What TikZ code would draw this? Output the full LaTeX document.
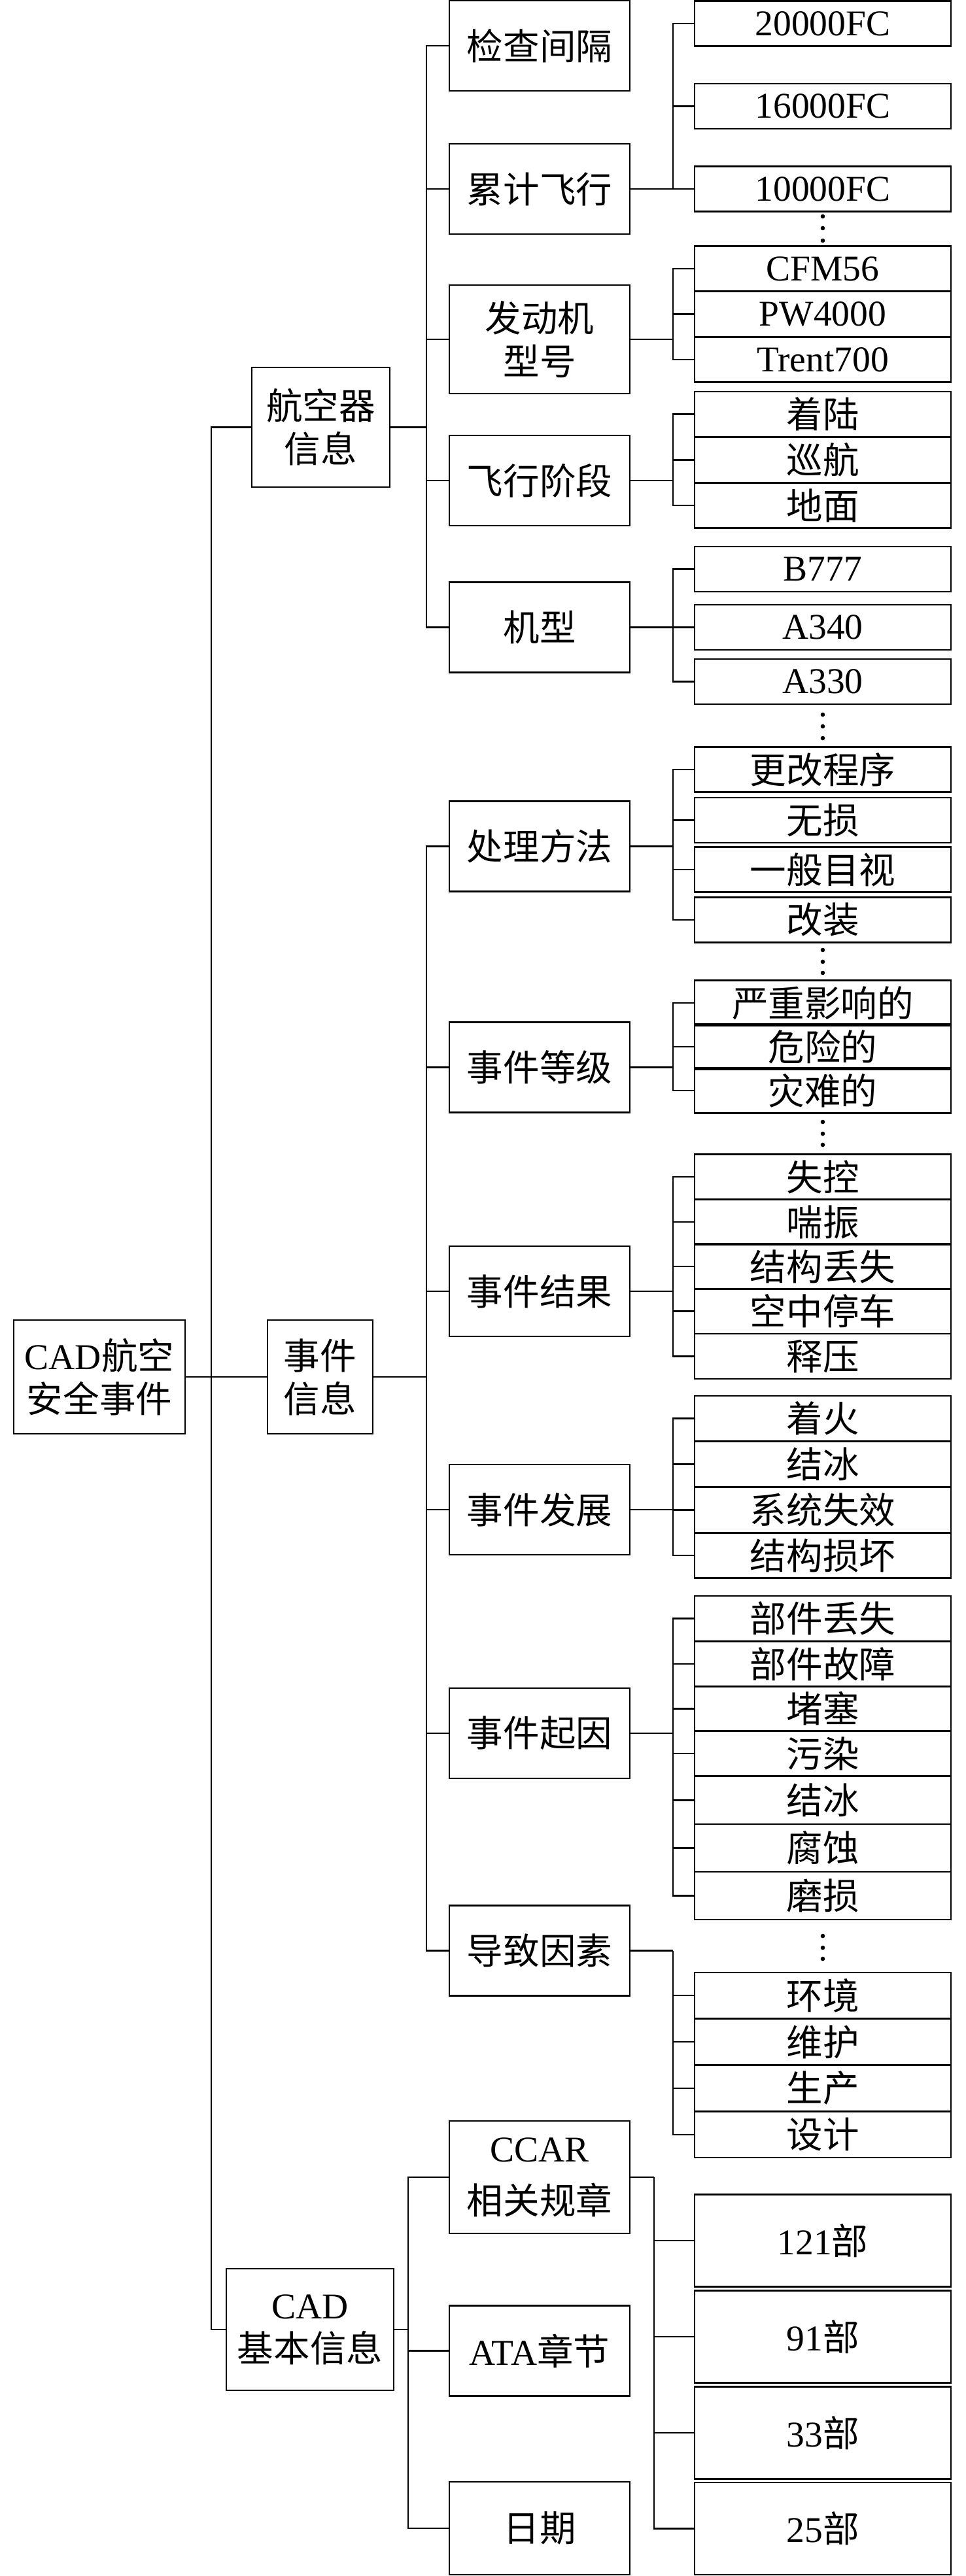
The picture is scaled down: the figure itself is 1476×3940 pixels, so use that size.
\documentclass[tikz,border=0pt]{standalone}
\usepackage{fontspec}
\setmainfont{Liberation Serif}
\newfontfamily\zh{Noto Sans CJK SC}
\newcommand\lat[1]{{\rmfamily #1}}
\usetikzlibrary{%
  arrows,%
  calc%
}
\tikzset{>=latex}
\tikzset{wire/.style = {line width=0.75pt},
	box/.style = {draw, line width=0.75pt, inner sep=0pt, align=center,
	    font=\zh\fontsize{15.8}{18.8}\selectfont},
	branch/.style = {box, minimum width=27.6mm, minimum height=13.8mm},
	leaf/.style = {box, minimum width=39.2mm, minimum height=6.9mm},
	bigleaf/.style = {box, minimum width=39.2mm, minimum height=14.1mm}}

\begin{document}
\begin{tikzpicture}[x=0.1mm, y=-0.1mm]
    \useasboundingbox (0,0) rectangle (1476,3940);
    \node[box, minimum width=26.2mm, minimum height=17.4mm] (root) at (152,2106) {\lat{CAD}航空\\安全事件};
    \node[box, minimum width=21.1mm, minimum height=18.3mm] (hk) at (490.5,653.5) {航空器\\信息};
    \node[box, minimum width=16.1mm, minimum height=17.4mm] (sj) at (489.5,2106) {事件\\信息};
    \node[box, minimum width=25.6mm, minimum height=18.6mm] (jb) at (474,3563) {\lat{CAD}\\基本信息};

    \node[branch] (jc) at (825,70) {检查间隔};
    \node[branch] (lj) at (825,289) {累计飞行};
    \node[branch, minimum height=16.6mm] (fd) at (825,519) {发动机\\型号};
    \node[branch] (fj) at (825,735) {飞行阶段};
    \node[branch] (jx) at (825,959.5) {机型};
    \node[branch] (cl) at (825,1294.5) {处理方法};
    \node[branch] (dj) at (825,1632.5) {事件等级};
    \node[branch] (jg) at (825,1975) {事件结果};
    \node[branch] (fz) at (825,2309) {事件发展};
    \node[branch] (qy) at (825,2651) {事件起因};
    \node[branch] (dz) at (825,2983.5) {导致因素};
    \node[branch, minimum height=17.2mm] (gz) at (825,3330) {\lat{CCAR}\\[4pt]相关规章};
    \node[branch] (ata) at (825,3595.5) {\lat{ATA}章节};
    \node[branch, minimum height=14.2mm] (rq) at (825,3867) {日期};

    \node[leaf] (a1) at (1258,36) {\lat{20000FC}};
    \node[leaf] (a2) at (1258,162.5) {\lat{16000FC}};
    \node[leaf] (a3) at (1258,289) {\lat{10000FC}};
    \node[leaf] (b1) at (1258,411) {\lat{CFM56}};
    \node[leaf] (b2) at (1258,480.5) {\lat{PW4000}};
    \node[leaf] (b3) at (1258,550) {\lat{Trent700}};
    \node[leaf] (c1) at (1258,633.5) {着陆};
    \node[leaf] (c2) at (1258,703.5) {巡航};
    \node[leaf] (c3) at (1258,773) {地面};
    \node[leaf] (d1) at (1258,870.5) {\lat{B777}};
    \node[leaf] (d2) at (1258,959.5) {\lat{A340}};
    \node[leaf] (d3) at (1258,1042.5) {\lat{A330}};
    \node[leaf] (e1) at (1258,1177) {更改程序};
    \node[leaf] (e2) at (1258,1254.5) {无损};
    \node[leaf] (e3) at (1258,1330) {一般目视};
    \node[leaf] (e4) at (1258,1407) {改装};
    \node[leaf] (f1) at (1258,1534) {严重影响的};
    \node[leaf] (f2) at (1258,1601) {危险的};
    \node[leaf] (f3) at (1258,1668) {灾难的};
    \node[leaf] (g1) at (1258,1800) {失控};
    \node[leaf] (g2) at (1258,1869) {喘振};
    \node[leaf] (g3) at (1258,1937) {结构丢失};
    \node[leaf] (g4) at (1258,2005.5) {空中停车};
    \node[leaf] (g5) at (1258,2074.5) {释压};
    \node[leaf] (h1) at (1258,2169.5) {着火};
    \node[leaf] (h2) at (1258,2239.5) {结冰};
    \node[leaf] (h3) at (1258,2309.5) {系统失效};
    \node[leaf] (h4) at (1258,2379) {结构损坏};
    \node[leaf] (i1) at (1258,2475.5) {部件丢失};
    \node[leaf] (i2) at (1258,2545) {部件故障};
    \node[leaf] (i3) at (1258,2613.5) {堵塞};
    \node[leaf] (i4) at (1258,2682) {污染};
    \node[leaf, minimum height=7.3mm] (i5) at (1258,2753.5) {结冰};
    \node[leaf, minimum height=7.3mm] (i6) at (1258,2826.5) {腐蚀};
    \node[leaf, minimum height=7.3mm] (i7) at (1258,2899.5) {磨损};
    \node[leaf, minimum height=7mm] (j1) at (1258,3052) {环境};
    \node[leaf, minimum height=7mm] (j2) at (1258,3123) {维护};
    \node[leaf, minimum height=7mm] (j3) at (1258,3194) {生产};
    \node[leaf, minimum height=7mm] (j4) at (1258,3265) {设计};
    \node[bigleaf] (k1) at (1258,3427) {\lat{121}部};
    \node[bigleaf] (k2) at (1258,3574) {\lat{91}部};
    \node[bigleaf] (k3) at (1258,3721) {\lat{33}部};
    \node[bigleaf] (k4) at (1258,3867.5) {\lat{25}部};

    \fill (1258,331) circle[radius=0.33mm] (1258,349) circle[radius=0.33mm] (1258,368) circle[radius=0.33mm];
    \fill (1258,1093) circle[radius=0.33mm] (1258,1111) circle[radius=0.33mm] (1258,1129) circle[radius=0.33mm];
    \fill (1258,1453) circle[radius=0.33mm] (1258,1471) circle[radius=0.33mm] (1258,1488) circle[radius=0.33mm];
    \fill (1258,1716) circle[radius=0.33mm] (1258,1734) circle[radius=0.33mm] (1258,1751) circle[radius=0.33mm];
    \fill (1258,2961) circle[radius=0.33mm] (1258,2979) circle[radius=0.33mm] (1258,2996) circle[radius=0.33mm];

    \coordinate (l1) at (323,0);
    \coordinate (l2) at (652,0);
    \coordinate (l3) at (1029,0);
    \coordinate (l4) at (624,0);
    \coordinate (l5) at (1000,0);

    \draw[wire] (root.east) -- (sj.west);
    \draw[wire] (hk.west) -- (hk.west -| l1) -- (jb.west -| l1) -- (jb.west);

    \draw[wire] (hk.east) -- (hk.east -| l2) (jc.west) -| (hk.east -| l2) (lj.west) -| (hk.east -| l2)
        (fd.west) -| (hk.east -| l2) (fj.west) -| (hk.east -| l2) (jx.west) -| (hk.east -| l2);
    \draw[wire] (sj.east) -- (sj.east -| l2) (cl.west) -| (sj.east -| l2) (dj.west) -| (sj.east -| l2)
        (jg.west) -| (sj.east -| l2) (fz.west) -| (sj.east -| l2) (qy.west) -| (sj.east -| l2)
        (dz.west) -| (sj.east -| l2);
    \draw[wire] (jb.east) -- (jb.east -| l4) (gz.west) -| (jb.east -| l4) (ata.west) -| (jb.east -| l4)
        (rq.west) -| (jb.east -| l4);

    \draw[wire] (lj.east) -- (lj.east -| l3) (a1.west) -| (lj.east -| l3) (a2.west) -| (lj.east -| l3)
        (a3.west) -| (lj.east -| l3);
    \draw[wire] (fd.east) -- (fd.east -| l3) (b1.west) -| (fd.east -| l3) (b2.west) -| (fd.east -| l3)
        (b3.west) -| (fd.east -| l3);
    \draw[wire] (fj.east) -- (fj.east -| l3) (c1.west) -| (fj.east -| l3) (c2.west) -| (fj.east -| l3)
        (c3.west) -| (fj.east -| l3);
    \draw[wire] (jx.east) -- (jx.east -| l3) (d1.west) -| (jx.east -| l3) (d2.west) -| (jx.east -| l3)
        (d3.west) -| (jx.east -| l3);
    \draw[wire] (cl.east) -- (cl.east -| l3) (e1.west) -| (cl.east -| l3) (e2.west) -| (cl.east -| l3)
        (e3.west) -| (cl.east -| l3) (e4.west) -| (cl.east -| l3);
    \draw[wire] (dj.east) -- (dj.east -| l3) (f1.west) -| (dj.east -| l3) (f2.west) -| (dj.east -| l3)
        (f3.west) -| (dj.east -| l3);
    \draw[wire] (jg.east) -- (jg.east -| l3) (g1.west) -| (jg.east -| l3) (g2.west) -| (jg.east -| l3)
        (g3.west) -| (jg.east -| l3) (g4.west) -| (jg.east -| l3) (g5.west) -| (jg.east -| l3);
    \draw[wire] (fz.east) -- (fz.east -| l3) (h1.west) -| (fz.east -| l3) (h2.west) -| (fz.east -| l3)
        (h3.west) -| (fz.east -| l3) (h4.west) -| (fz.east -| l3);
    \draw[wire] (qy.east) -- (qy.east -| l3) (i1.west) -| (qy.east -| l3) (i2.west) -| (qy.east -| l3)
        (i3.west) -| (qy.east -| l3) (i4.west) -| (qy.east -| l3) (i5.west) -| (qy.east -| l3)
        (i6.west) -| (qy.east -| l3) (i7.west) -| (qy.east -| l3);
    \draw[wire] (dz.east) -- (dz.east -| l3) (j1.west) -| (dz.east -| l3) (j2.west) -| (dz.east -| l3)
        (j3.west) -| (dz.east -| l3) (j4.west) -| (dz.east -| l3);
    \draw[wire] (gz.east) -- (gz.east -| l5) (k1.west) -| (gz.east -| l5) (k2.west) -| (gz.east -| l5)
        (k3.west) -| (gz.east -| l5) (k4.west) -| (gz.east -| l5);
\end{tikzpicture}
\end{document}
